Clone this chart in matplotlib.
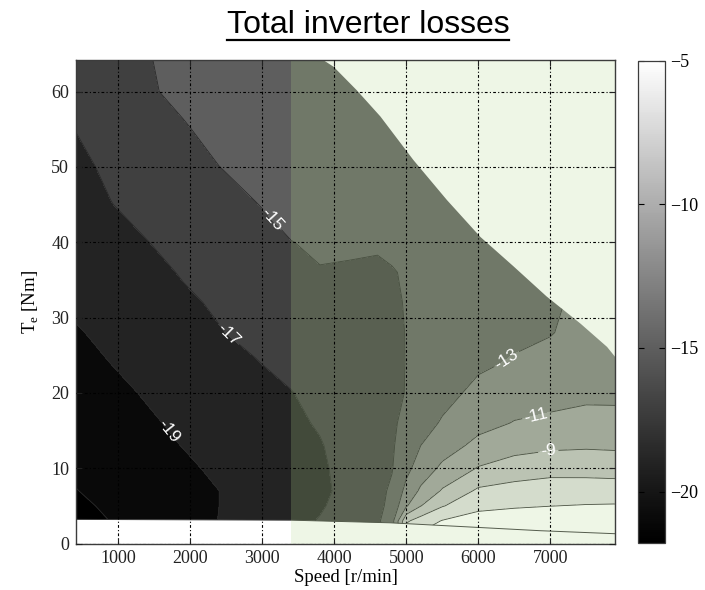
import numpy as np
import matplotlib
matplotlib.use("Agg")
import matplotlib.pyplot as plt
from matplotlib.colors import LinearSegmentedColormap, Normalize
from matplotlib.cm import ScalarMappable
from matplotlib.patches import Polygon
from matplotlib.lines import Line2D

plt.rcParams["font.family"] = ["Liberation Serif", "DejaVu Serif"]
plt.rcParams["mathtext.fontset"] = "custom"
plt.rcParams["mathtext.rm"] = "Liberation Serif"
plt.rcParams["axes.unicode_minus"] = True
plt.rcParams["contour.negative_linestyle"] = "solid"

# grid nodes: motor speed [r/min] and torque [Nm]
speed = [400, 900, 1400, 1900, 2400, 2900, 3400, 3800, 4200, 4600,
         4800, 5000, 5200, 5500, 6000, 6500, 7000, 7500, 7900]
torque = [1, 3, 5, 7, 10, 13, 16, 20, 24, 28, 32, 36, 40, 45, 50, 55, 60, 65]

# total inverter losses on the grid, one row per torque value
loss = [
    [-22.1, -21.4, -20.7, -20.0, -19.3, -18.6, -17.8, -17.2, -16.5, -15.6, -14.5, -5.5, -4.6, -4.2, -3.6, -3.5, -3.4, -3.35, -3.3],
    [-21.7, -20.96, -20.3, -19.6, -18.97, -18.24, -17.5, -16.9, -16.13, -15.3, -13.8, -7.3, -6.1, -4.9, -4.1, -3.9, -3.8, -3.7, -3.6],
    [-21.32, -20.75, -20.17, -19.6, -19.0, -18.36, -17.7, -17.17, -16.37, -15.42, -14.52, -11.2, -9.06, -7.13, -5.52, -5.21, -5.03, -4.9, -4.85],
    [-21.05, -20.54, -20.03, -19.5, -19.0, -18.39, -17.8, -17.3, -16.59, -15.49, -14.72, -12.44, -10.67, -8.81, -6.68, -6.25, -6.04, -6.04, -6.06],
    [-20.75, -20.25, -19.75, -19.25, -18.74, -18.19, -17.65, -17.22, -16.52, -15.57, -15.1, -13.5, -12.14, -10.61, -8.88, -8.11, -7.69, -7.7, -7.81],
    [-20.48, -19.97, -19.46, -18.96, -18.47, -17.98, -17.49, -17.1, -16.39, -15.58, -15.17, -14.26, -13.0, -11.9, -10.48, -9.71, -9.38, -9.25, -9.33],
    [-20.2, -19.7, -19.2, -18.72, -18.24, -17.77, -17.3, -16.86, -16.2, -15.53, -15.2, -14.67, -13.83, -12.8, -11.6, -10.92, -10.66, -10.5, -10.55],
    [-19.84, -19.35, -18.87, -18.41, -17.96, -17.5, -17.05, -16.55, -16.03, -15.5, -15.24, -14.96, -14.44, -13.67, -12.48, -11.88, -11.61, -11.33, -11.32],
    [-19.47, -18.98, -18.5, -18.03, -17.55, -17.07, -16.58, -16.18, -15.78, -15.38, -15.18, -14.98, -14.68, -14.23, -13.35, -12.81, -12.37, -11.81, -11.77],
    [-19.11, -18.7, -18.16, -17.62, -17.07, -16.65, -16.26, -15.94, -15.62, -15.31, -15.15, -14.98, -14.8, -14.51, -13.7, -13.45, -13.1, -12.29, -12.2],
    [-18.78, -18.26, -17.75, -17.23, -16.81, -16.45, -16.1, -15.82, -15.54, -15.25, -15.11, -14.96, -14.78, -14.5, -14.03, -13.6, -13.25, -12.6, -12.5],
    [-18.47, -17.94, -17.41, -16.89, -16.44, -15.99, -15.54, -15.05, -15.1, -15.2, -15.05, -14.92, -14.75, -14.5, -14.1, -13.7, -13.3, -12.9, -12.7],
    [-18.17, -17.6, -17.03, -16.52, -16.0, -15.48, -15.02, -14.85, -14.85, -14.85, -14.82, -14.8, -14.7, -14.45, -14.1, -13.7, -13.3, -12.9, -12.7],
    [-17.78, -17.03, -16.53, -16.03, -15.54, -15.04, -14.6, -14.5, -14.45, -14.4, -14.4, -14.35, -14.3, -14.25, -14.0, -13.7, -13.3, -12.9, -12.7],
    [-17.39, -16.7, -16.14, -15.58, -15.01, -14.6, -14.5, -14.45, -14.4, -14.35, -14.3, -14.3, -14.25, -14.2, -14.0, -13.7, -13.3, -12.9, -12.7],
    [-16.98, -16.4, -15.77, -15.15, -14.5, -14.45, -14.4, -14.35, -14.3, -14.3, -14.25, -14.25, -14.2, -14.15, -14.0, -13.7, -13.3, -12.9, -12.7],
    [-16.62, -15.93, -15.2, -14.6, -14.45, -14.4, -14.35, -14.3, -14.3, -14.25, -14.25, -14.2, -14.2, -14.1, -14.0, -13.7, -13.3, -12.9, -12.7],
    [-16.3, -15.75, -15.07, -14.5, -14.4, -14.35, -14.3, -14.3, -14.25, -14.25, -14.2, -14.2, -14.15, -14.1, -14.0, -13.7, -13.3, -12.9, -12.7],
]

# lower limit of the operating area
bottom_speed = [410, 3400, 4770, 5470, 6860, 7900]
bottom_torque = [3.2, 3.1, 2.75, 2.4, 1.7, 1.3]

# maximum torque envelope
env_speed = [3780, 3990, 4310, 4640, 5100, 5565, 6030, 6490, 6950, 7420, 7790, 7900]
env_torque = [64.6, 63.3, 60.2, 56.7, 50.9, 45.6, 40.7, 36.8, 32.8, 29.2, 26.1, 24.8]

levels = [-23, -21, -19, -17, -15, -13, -11, -9, -7, -5, -3]
label_levels = [-19, -17, -15, -13, -11, -9]
plain_levels = [-21, -7, -5]
label_pos = [(1709, 15.1), (2506, 27.5), (3108, 42.9), (6440, 23.9), (6815, 16.6), (6977, 12.0)]

field_weakening_start = 3400
cbar_min, cbar_max = -21.8, -5
cbar_ticks = [-20, -15, -10, -5]

W, H = 705, 590
fig = plt.figure(figsize=(W / 100, H / 100), dpi=100)
ax = fig.add_axes([76 / W, 46.5 / H, 539 / W, 483.5 / H])

cmap = LinearSegmentedColormap.from_list("loss_gray", ["black", "white"], gamma=1.1)
norm = Normalize(cbar_min, cbar_max)
band_colors = [cmap(float(np.clip(norm(lv), 0, 1))) for lv in levels[:-1]]

S, T = np.meshgrid(np.array(speed, float), np.array(torque, float))
Z = np.array(loss, float)

verts = list(zip(bottom_speed, bottom_torque)) + list(zip(env_speed[::-1], env_torque[::-1]))
verts += [(env_speed[0], 70), (bottom_speed[0] - 100, 70), (bottom_speed[0] - 100, bottom_torque[0])]
region = Polygon(verts, closed=True, transform=ax.transData, facecolor="none", edgecolor="none")

cf = ax.contourf(S, T, Z, levels=levels, colors=band_colors, zorder=1)
cf.set_clip_path(region)

line_kw = dict(colors="#2a2a2a", linewidths=0.6, linestyles="solid", zorder=1.5)
cl_plain = ax.contour(S, T, Z, levels=plain_levels, **line_kw)
cl_plain.set_clip_path(region)
cl_lab = ax.contour(S, T, Z, levels=label_levels, **line_kw)
cl_lab.set_clip_path(region)
labels = ax.clabel(cl_lab, manual=label_pos, inline=True, inline_spacing=3,
                   fontsize=12.5, colors="white", fmt=lambda v: f"{v:.0f}")
for txt in labels:
    txt.set_fontfamily(["Liberation Sans", "DejaVu Sans"])
    txt.set_zorder(3)

ax.plot(bottom_speed, bottom_torque, color="#3a3a3a", lw=0.7, zorder=1.6)

ax.axvspan(field_weakening_start, 8200, facecolor=(179 / 255, 214 / 255, 143 / 255),
           alpha=0.22, edgecolor="none", zorder=2.4)

ax.set_xlim(410, 7900)
ax.set_ylim(0, 64.2)
ax.set_xticks(range(1000, 7001, 1000))
ax.set_yticks(range(0, 61, 10))
ax.grid(True, color="black", linestyle=(0, (2.5, 2, 1, 2)), linewidth=0.8)
ax.set_axisbelow(False)
ax.tick_params(direction="in", length=4, width=0.8, top=True, right=True,
               labelsize=13, pad=5, colors="#222222")
for sp in ax.spines.values():
    sp.set_color("#3c3c3c")
    sp.set_linewidth(1.0)

ax.set_xlabel("Speed [r/min]", fontsize=13.5, va="center")
ax.xaxis.set_label_coords(0.5, -0.071)
ax.set_ylabel(r"T$_\mathregular{e}$ [Nm]", fontsize=13.5, va="center")
ax.yaxis.set_label_coords(-0.083, 0.5)

cax = fig.add_axes([637.7 / W, 46.7 / H, 27.3 / W, 482.6 / H])
cb = fig.colorbar(ScalarMappable(norm=norm, cmap=cmap), cax=cax, ticks=cbar_ticks)
cax.tick_params(direction="in", left=True, right=True, length=4, width=0.8,
                labelsize=13, pad=4)
cb.outline.set_linewidth(0.9)
cb.outline.set_edgecolor("#3c3c3c")

title = fig.text(368 / W, 1 - 33 / H, "Total inverter losses", ha="center", va="baseline",
                 fontsize=23, family=["Liberation Sans", "DejaVu Sans"])
fig.canvas.draw()
bb = title.get_window_extent()
uy = 1 - 39.5 / H
fig.add_artist(Line2D([bb.x0 / W, bb.x1 / W], [uy, uy], transform=fig.transFigure,
                      color="black", lw=1.6))

fig.savefig("out.png", dpi=100)
